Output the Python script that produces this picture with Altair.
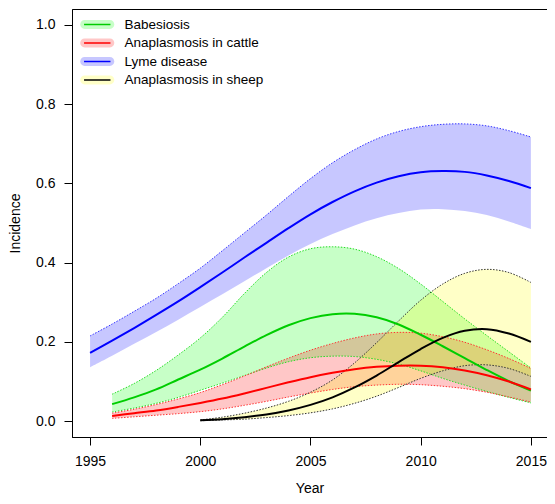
import altair as alt
import pandas as pd

series_names = ["Babesiosis", "Anaplasmosis in cattle", "Lyme disease", "Anaplasmosis in sheep"]

lyme_years = list(range(1995, 2016))
lyme_mid = [0.172, 0.203, 0.235, 0.268, 0.302, 0.338, 0.375, 0.413, 0.450, 0.487, 0.522,
            0.553, 0.580, 0.602, 0.618, 0.628, 0.631, 0.629, 0.620, 0.606, 0.588]
lyme_hi = [0.215, 0.245, 0.277, 0.310, 0.347, 0.386, 0.430, 0.475, 0.520, 0.567, 0.612,
           0.652, 0.685, 0.712, 0.731, 0.743, 0.749, 0.750, 0.745, 0.733, 0.717]
lyme_lo = [0.136, 0.165, 0.195, 0.225, 0.256, 0.288, 0.320, 0.353, 0.386, 0.418, 0.447,
           0.472, 0.494, 0.512, 0.525, 0.534, 0.535, 0.530, 0.520, 0.504, 0.485]

bab_years = list(range(1996, 2016))
bab_mid = [0.043, 0.060, 0.080, 0.105, 0.130, 0.158, 0.188, 0.217, 0.242, 0.260,
           0.270, 0.271, 0.262, 0.244, 0.218, 0.189, 0.159, 0.129, 0.101, 0.077]
bab_hi = [0.068, 0.095, 0.128, 0.167, 0.210, 0.262, 0.322, 0.375, 0.414, 0.435,
          0.440, 0.434, 0.415, 0.385, 0.346, 0.302, 0.258, 0.216, 0.175, 0.134]
bab_lo = [0.023, 0.033, 0.045, 0.060, 0.078, 0.096, 0.115, 0.134, 0.150, 0.160,
          0.164, 0.163, 0.156, 0.144, 0.127, 0.108, 0.091, 0.075, 0.060, 0.046]

cattle_years = list(range(1996, 2016))
cattle_mid = [0.013, 0.020, 0.027, 0.036, 0.046, 0.057, 0.070, 0.084, 0.098, 0.111,
              0.122, 0.131, 0.137, 0.140, 0.140, 0.136, 0.128, 0.116, 0.100, 0.080]
cattle_hi = [0.020, 0.030, 0.042, 0.056, 0.072, 0.092, 0.114, 0.137, 0.159, 0.179,
             0.196, 0.210, 0.220, 0.224, 0.222, 0.213, 0.199, 0.180, 0.158, 0.133]
cattle_lo = [0.007, 0.011, 0.015, 0.019, 0.024, 0.031, 0.040, 0.050, 0.061, 0.071,
             0.080, 0.087, 0.091, 0.093, 0.092, 0.088, 0.082, 0.073, 0.061, 0.048]

sheep_years = list(range(2000, 2016))
sheep_mid = [0.002, 0.005, 0.010, 0.017, 0.027, 0.041, 0.060, 0.085, 0.115, 0.149,
             0.182, 0.210, 0.228, 0.232, 0.221, 0.200]
sheep_hi = [0.003, 0.010, 0.020, 0.033, 0.050, 0.073, 0.104, 0.147, 0.198, 0.253,
            0.305, 0.346, 0.373, 0.383, 0.375, 0.350]
sheep_lo = [0.001, 0.003, 0.005, 0.009, 0.014, 0.021, 0.031, 0.045, 0.063, 0.085,
            0.108, 0.127, 0.140, 0.142, 0.133, 0.113]

band_colors = ["#00FF00", "#FF0000", "#0000FF", "#FFFF00"]
line_colors = ["#00CD00", "#FF0000", "#0000FF", "#000000"]
edge_colors = ["#22DD22", "#FF3333", "#3333FF", "#333333"]
edge_show_lo = [True, True, False, True]

x_ticks = [1995, 2000, 2005, 2010, 2015]
y_ticks = [0.0, 0.2, 0.4, 0.6, 0.8, 1.0]

groups = [
    (series_names[0], bab_years, bab_mid, bab_lo, bab_hi),
    (series_names[1], cattle_years, cattle_mid, cattle_lo, cattle_hi),
    (series_names[2], lyme_years, lyme_mid, lyme_lo, lyme_hi),
    (series_names[3], sheep_years, sheep_mid, sheep_lo, sheep_hi),
]

rows, edge_rows = [], []
for gi, (name, yrs, mid, lo, hi) in enumerate(groups):
    for y, m, l, h in zip(yrs, mid, lo, hi):
        rows.append({"series": name, "series_l": name, "year": y, "mid": m, "lo": l, "hi": h})
        edge_rows.append({"key": name + "_hi", "year": y, "value": h, "ecolor": edge_colors[gi]})
        if edge_show_lo[gi]:
            edge_rows.append({"key": name + "_lo", "year": y, "value": l, "ecolor": edge_colors[gi]})
df = pd.DataFrame(rows)
edf = pd.DataFrame(edge_rows)

FONT = "Liberation Sans"
INTERP = "catmull-rom"

x_scale = alt.Scale(domain=[1994.18, 2015.73], nice=False, zero=False)
y_scale = alt.Scale(domain=[-0.04, 1.04], nice=False, zero=False)
x_axis = alt.Axis(values=x_ticks, format="d", title="Year", titleBaseline="alphabetic", titleY=55)
y_axis = alt.Axis(values=y_ticks, format=".1f", title="Incidence", titlePadding=13)

capsule = "M-2.3,-0.8 H2.3 A0.8,0.8 0 0 1 2.3,0.8 H-2.3 A0.8,0.8 0 0 1 -2.3,-0.8 Z"
short_line = "M-2.4,0 H2.4"

common_leg = dict(title=None, orient="none", legendX=18.5, legendY=8.75, padding=0,
                  symbolSize=121, labelFont=FONT, labelFontSize=13.5, labelColor="black",
                  labelOffset=20.5, rowPadding=3.5, labelLimit=300)

fill_legend = alt.Legend(symbolType=capsule, symbolOpacity=0.22, symbolStrokeWidth=0, **common_leg)
line_legend = alt.Legend(symbolType=short_line, symbolStrokeWidth=1.5, labelOpacity=0, **common_leg)

bands = alt.Chart(df).mark_area(fillOpacity=0.22, interpolate=INTERP).encode(
    x=alt.X("year:Q", scale=x_scale, axis=x_axis),
    y=alt.Y("lo:Q", scale=y_scale, axis=y_axis),
    y2="hi:Q",
    fill=alt.Fill("series:N", scale=alt.Scale(domain=series_names, range=band_colors),
                  legend=fill_legend),
)

edges = alt.Chart(edf).mark_line(strokeWidth=1, strokeDash=[1.5, 1.5], interpolate=INTERP).encode(
    x=alt.X("year:Q", scale=x_scale, axis=x_axis),
    y=alt.Y("value:Q", scale=y_scale, axis=y_axis),
    detail="key:N",
    color=alt.Color("ecolor:N", scale=None),
)

lines = alt.Chart(df).mark_line(strokeWidth=2, interpolate=INTERP).encode(
    x=alt.X("year:Q", scale=x_scale, axis=x_axis),
    y=alt.Y("mid:Q", scale=y_scale, axis=y_axis),
    stroke=alt.Stroke("series_l:N", sort=series_names, scale=alt.Scale(range=line_colors),
                      legend=line_legend),
)

chart = alt.layer(bands, edges, lines).properties(
    width=475, height=428,
    padding={"left": 64, "top": 1, "right": 0, "bottom": 59},
    autosize="none",
    background="white",
).configure_view(
    stroke="black", strokeWidth=1
).configure_axis(
    grid=False, domain=True, domainColor="black", tickColor="black", tickSize=8,
    labelFont=FONT, labelFontSize=14, labelColor="black", labelPadding=9,
    titleFont=FONT, titleFontSize=14, titleFontWeight="normal", titleColor="black",
)

chart.save("out.html", embed_options={"renderer": "svg", "actions": False})
